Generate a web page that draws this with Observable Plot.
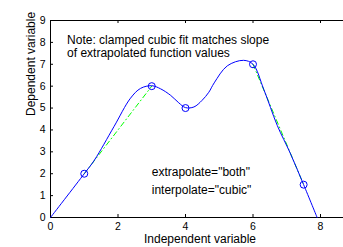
<!DOCTYPE html>
<html>
<head>
<meta charset="utf-8">
<script src="https://cdn.jsdelivr.net/npm/d3@7"></script>
<script src="https://cdn.jsdelivr.net/npm/@observablehq/plot@0.6"></script>
<style>
  html, body { margin: 0; padding: 0; background: #fff; overflow: hidden; }
  #chart svg { display: block; }
</style>
</head>
<body>
<div id="chart"></div>
<script>
// Data points (circles)
const knotX = [1, 3, 4, 6, 7.5];
const knotY = [2, 6, 5, 7, 1.5];

// Blue clamped cubic curve
const curveX = [0, 1, 1.3, 1.88, 2.37, 2.67, 3, 3.26, 3.56, 3.8, 4, 4.25, 4.49, 4.69, 4.85, 5.24, 5.72, 6, 6.32, 6.72, 7.1, 7.5, 7.9];
const curveY = [0, 2, 2.62, 4.15, 5.45, 5.9, 6.02, 5.88, 5.58, 5.24, 5.02, 5.05, 5.35, 5.72, 6.15, 6.93, 7.18, 7.0, 5.85, 4.2, 2.95, 1.5, 0];

// Green dash-dot linear end segments
const greenX = [1, 3, 6, 7.5];
const greenY = [2, 6, 7, 1.5];
const greenSeg = ["a", "a", "b", "b"];

const xTicks = [0, 2, 4, 6, 8];
const yTicks = [0, 1, 2, 3, 4, 5, 6, 7, 8, 9];

const noteLines = ["Note: clamped cubic fit matches slope", "of extrapolated function values"];
const infoLines = ['extrapolate="both"', 'interpolate="cubic"'];
const xLabel = "Independent variable";
const yLabel = "Dependent variable";

const knots = knotX.map((x, i) => ({x, y: knotY[i]}));
const curve = curveX.map((x, i) => ({x, y: curveY[i]}));
const green = greenX.map((x, i) => ({x, y: greenY[i], z: greenSeg[i]}));

const W = 343, H = 247;
const mL = 50, mT = 20, mB = 30, mR = 0;
const innerW = W - mL - mR, innerH = H - mT - mB;
const font = "'Liberation Sans', Arial, Helvetica, sans-serif";

const chart = Plot.plot({
  width: W,
  height: H,
  marginLeft: mL,
  marginRight: mR,
  marginTop: mT,
  marginBottom: mB,
  style: {fontFamily: font, background: "#fff", color: "#000", overflow: "visible"},
  x: {domain: [0, 9], range: [mL, mL + 9 * 33.75]},
  y: {domain: [0, 9]},
  marks: [
    // frame lines
    Plot.ruleX([0], {stroke: "#000", strokeWidth: 1}),
    Plot.ruleY([0], {stroke: "#000", strokeWidth: 1}),
    Plot.ruleY([9], {stroke: "#000", strokeWidth: 1}),
    // inward ticks
    Plot.tickX(xTicks, {x: d => d, insetTop: innerH - 3, stroke: "#000"}),
    Plot.tickX(xTicks, {x: d => d, insetBottom: innerH - 3, stroke: "#000"}),
    Plot.tickY(yTicks, {y: d => d, insetRight: innerW - 3, stroke: "#000"}),
    // tick labels
    Plot.axisX({ticks: xTicks, tickSize: 0, tickPadding: 5, fontSize: 10.5, tickFormat: d => String(d), label: null}),
    Plot.axisY({ticks: yTicks, tickSize: 0, tickPadding: 5, fontSize: 10.5, tickFormat: d => String(d), label: null}),
    // green dash-dot
    Plot.line(green, {x: "x", y: "y", z: "z", stroke: "#00ff00", strokeWidth: 1, strokeDasharray: "5,3,1,3"}),
    // blue curve
    Plot.line(curve, {x: "x", y: "y", stroke: "#0000ff", strokeWidth: 1, curve: "catmull-rom"}),
    // circles
    Plot.dot(knots, {x: "x", y: "y", r: 3.5, stroke: "#0000ff", fill: "none", strokeWidth: 1}),
    // annotations
    Plot.text([noteLines[0]], {x: 0.49, y: 8.3, text: d => d, textAnchor: "start", lineAnchor: "top", fontSize: 12, fill: "#000"}),
    Plot.text([noteLines[1]], {x: 0.49, y: 7.7, text: d => d, textAnchor: "start", lineAnchor: "top", fontSize: 12, fill: "#000"}),
    Plot.text([infoLines[0]], {x: 3.0, y: 2.05, text: d => d, textAnchor: "start", lineAnchor: "middle", fontSize: 12, fill: "#000"}),
    Plot.text([infoLines[1]], {x: 3.0, y: 1.27, text: d => d, textAnchor: "start", lineAnchor: "middle", fontSize: 12, fill: "#000"}),
    // axis labels
    Plot.text([xLabel], {frameAnchor: "bottom", dx: 3, dy: 22, text: d => d, lineAnchor: "middle", fontSize: 12, fill: "#000"}),
    Plot.text([yLabel], {frameAnchor: "left", dx: -19, dy: -3, rotate: -90, text: d => d, lineAnchor: "middle", fontSize: 12, fill: "#000"})
  ]
});

document.getElementById("chart").appendChild(chart);
</script>
</body>
</html>
